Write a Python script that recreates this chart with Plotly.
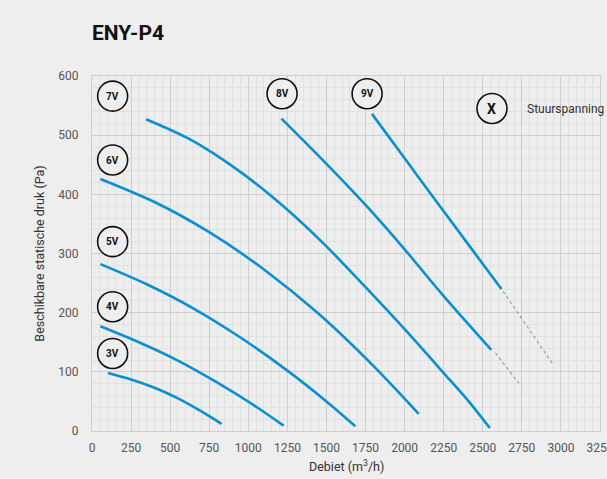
import plotly.graph_objects as go

# ---- data ----
x_3v = [102, 250, 400, 550, 700, 828]
y_3v = [98, 87, 73, 55, 33, 12]

x_4v = [54, 300, 550, 800, 1050, 1226]
y_4v = [177, 150, 119, 82, 41, 9]

x_5v = [54, 350, 650, 950, 1250, 1500, 1685]
y_5v = [282, 248, 207, 158, 102, 50, 8]

x_6v = [54, 400, 750, 1100, 1450, 1800, 2090]
y_6v = [426, 387, 336, 273, 198, 110, 29]

x_7v = [346, 619, 938, 1250, 1500, 1750, 2000, 2250, 2410, 2545]
y_7v = [527, 494, 440, 374, 312, 243, 172, 98, 50, 5]

x_8v = [1212, 1450, 1750, 2000, 2250, 2555]
y_8v = [528, 465, 382, 307, 228, 137]
x_8v_ext = [2581, 2730]
y_8v_ext = [132, 81]

x_9v = [1791, 2000, 2200, 2400, 2619]
y_9v = [536, 461, 389, 318, 240]
x_9v_ext = [2630, 2954]
y_9v_ext = [236, 111]

label_text = ["7V", "6V", "5V", "4V", "3V", "8V", "9V"]
label_x = [132, 132, 132, 132, 132, 1216, 1760]
label_y = [566, 458, 320, 210, 131, 570, 570]

BLUE = "#0a8fd0"
BG = "#eeeeee"

fig = go.Figure()

curves = [(x_3v, y_3v), (x_4v, y_4v), (x_5v, y_5v), (x_6v, y_6v),
          (x_7v, y_7v), (x_8v, y_8v), (x_9v, y_9v)]
for xs, ys in curves:
    fig.add_trace(go.Scatter(x=xs, y=ys, mode="lines",
                             line=dict(color=BLUE, width=2.6, shape="spline", smoothing=0.8),
                             hoverinfo="skip", showlegend=False))

for xs, ys in [(x_8v_ext, y_8v_ext), (x_9v_ext, y_9v_ext)]:
    fig.add_trace(go.Scatter(x=xs, y=ys, mode="lines",
                             line=dict(color="#9a9a9a", width=1.2, dash="dot"),
                             hoverinfo="skip", showlegend=False))

shapes = []
annotations = []
for t, lx, ly in zip(label_text, label_x, label_y):
    shapes.append(dict(type="circle", xref="x", yref="y", xsizemode="pixel", ysizemode="pixel",
                       xanchor=lx, yanchor=ly, x0=-15, x1=15, y0=-15, y1=15,
                       line=dict(color="#111111", width=1.6), fillcolor=BG, layer="above"))
    annotations.append(dict(x=lx, y=ly, xref="x", yref="y", text="<b>%s</b>" % t,
                            showarrow=False, font=dict(family="Roboto", size=10, color="#111111")))

# legend-like marker "X  Stuurspanning"
shapes.append(dict(type="circle", xref="x", yref="y", xsizemode="pixel", ysizemode="pixel",
                   xanchor=2559, yanchor=545, x0=-15, x1=15, y0=-15, y1=15,
                   line=dict(color="#111111", width=1.6), fillcolor=BG, layer="above"))
annotations.append(dict(x=2559, y=545, xref="x", yref="y", text="<b>X</b>", showarrow=False,
                        font=dict(family="Roboto", size=14, color="#111111")))
annotations.append(dict(x=2773, y=545, xref="x", yref="y", text="Stuurspanning", showarrow=False,
                        xanchor="left", font=dict(family="Roboto", size=12, color="#333333")))

# x axis title
annotations.append(dict(x=0.5, y=-0.099, xref="paper", yref="paper", xanchor="center", yanchor="middle",
                        text="Debiet (m<sup>3</sup>/h)", showarrow=False,
                        font=dict(family="Roboto", size=12.5, color="#333333")))

fig.update_layout(
    width=607, height=479,
    margin=dict(l=92, r=7, t=76, b=48, pad=0),
    paper_bgcolor=BG, plot_bgcolor=BG,
    title=dict(text="<b>ENY-P4</b>", x=92 / 607, xref="container", xanchor="left",
               y=1 - 33 / 479, yanchor="middle",
               font=dict(family="Roboto", size=21, color="#111111")),
    shapes=shapes, annotations=annotations,
    showlegend=False,
)

fig.update_xaxes(range=[0, 3250], tickmode="linear", tick0=0, dtick=250,
                 showgrid=True, gridcolor="#cfcfcf", gridwidth=1,
                 minor=dict(tickmode="linear", tick0=0, dtick=50, showgrid=True,
                            gridcolor="#e1e1e1", gridwidth=1),
                 showline=True, mirror=True, linecolor="#cfcfcf", linewidth=1,
                 zeroline=False, ticks="", ticklabelstandoff=6, ticklabeloverflow="allow",
                 tickfont=dict(family="Roboto", size=12, color="#555555"),
                 automargin=False)
fig.update_yaxes(range=[0, 600], tickmode="linear", tick0=0, dtick=100,
                 showgrid=True, gridcolor="#cfcfcf", gridwidth=1,
                 minor=dict(tickmode="linear", tick0=0, dtick=20, showgrid=True,
                            gridcolor="#e1e1e1", gridwidth=1),
                 showline=True, mirror=True, linecolor="#cfcfcf", linewidth=1,
                 zeroline=False, ticks="", ticklabelstandoff=10,
                 tickfont=dict(family="Roboto", size=12, color="#555555"),
                 title=dict(text="Beschikbare statische druk (Pa)", standoff=10,
                            font=dict(family="Roboto", size=12.5, color="#333333")),
                 automargin=False)

fig.write_html("out.html", config={"displayModeBar": False},
               post_script="document.body.style.margin='0';document.body.style.background='#eeeeee';")
